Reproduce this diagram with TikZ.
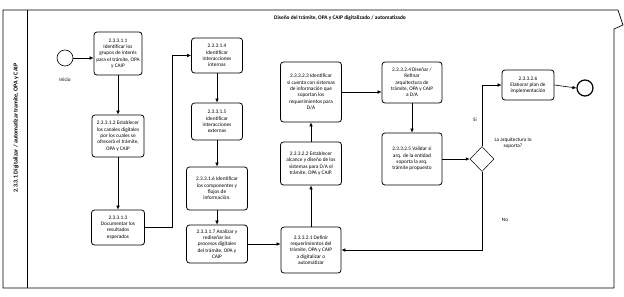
\documentclass[tikz,border=0pt]{standalone}
\usepackage{fontspec}
\setmainfont{Carlito}
\usetikzlibrary{arrows.meta,shapes.geometric}
\begin{document}
\begin{tikzpicture}[x=1pt,y=-1pt,
  task/.style 2 args={draw,rounded corners=3pt,line width=0.8pt,align=center,
    font=\fontsize{5.3}{6.3}\selectfont,inner sep=1pt,minimum width=#1,minimum height=#2},
  arr/.style={draw,line width=0.6pt,-{Latex[length=4pt,width=3.6pt]}},
  frame/.style={draw,line width=0.7pt},
  lbl/.style={font=\fontsize{5.2}{6}\selectfont,align=center,inner sep=0pt},
  event/.style={draw,circle,minimum size=16pt,inner sep=0pt},
  gate/.style={draw,diamond,minimum width=24pt,minimum height=25pt,inner sep=0pt,line width=0.5pt}]
\useasboundingbox[fill=white] (0,0) rectangle (624,297);
% pool / lane frame
\coordinate (tl) at (3,10);
\coordinate (tr) at (618,10);
\coordinate (tip) at (623,25);
\coordinate (rb) at (614,29);
\coordinate (br) at (614,288);
\coordinate (bl) at (3,288);
\draw[frame] (tl) -- (tr) -- (tip) -- (rb) -- (br) -- (bl) -- cycle;
\coordinate (dt) at (27,10);
\coordinate (db) at (27,288);
\draw[frame] (dt) -- (db);
\node[font=\bfseries\fontsize{6}{6}\selectfont,rotate=90] (lane) at (16,128) {2.3.3.1 Digitalizar / automatizar tramite, OPA y CAIP};
\node[font=\bfseries\fontsize{5.4}{6}\selectfont] (title) at (340,18) {Diseño del trámite, OPA y CAIP digitalizado / automatizado};
% events
\node[event,line width=0.6pt] (start) at (65,58) {};
\node[lbl] (inicio) at (65,80) {Inicio};
\node[event,line width=1.2pt] (end) at (585,88) {};
% tasks
\node[task={48pt}{43pt}] (b11) at (118,53.5) {2.3.3.1.1\\Identificar los\\grupos de interés\\para el trámite, OPA\\y CAIP};
\node[task={52pt}{42pt}] (b12) at (118,136) {2.3.3.1.2 Establecer\\los canales digitales\\por los cuales se\\ofrecerá el trámite,\\OPA y CAIP};
\node[task={53pt}{35pt}] (b13) at (118,227.5) {2.3.3.1.3\\Documentar los\\resultados\\esperados};
\node[task={51pt}{35pt}] (b14) at (217,55.5) {2.3.3.1.4\\Identificar\\interacciones\\internas};
\node[task={51pt}{37pt}] (b15) at (217,121.5) {2.3.3.1.5\\Identificar\\interacciones\\externas};
\node[task={61pt}{43pt}] (b16) at (217,188.5) {2.3.3.1.6 Identificar\\los componentes y\\flujos de\\información.};
\node[task={61pt}{38pt}] (b17) at (217,244) {2.3.3.1.7 Analizar y\\rediseñar los\\procesos digitales\\del trámite, OPA y\\CAIP};
\node[task={60pt}{46pt}] (b21) at (311,250) {2.3.3.2.1 Definir\\requerimientos del\\trámite, OPA y CAIP\\a digitalizar o\\automatizar};
\node[task={61pt}{43pt}] (b22) at (311,163.5) {2.3.3.2.2 Establecer\\alcance y diseño de los\\sistemas para D/A el\\trámite, OPA y CAIP.};
\node[task={61pt}{60pt}] (b23) at (311,92) {2.3.3.2.3 Identificar\\si cuenta con sistemas\\de información que\\soportan los\\requerimientos para\\D/A};
\node[task={60pt}{41pt}] (b24) at (412,82.5) {2.3.3.2.4 Diseñar /\\Refinar\\arquitectura de\\trámite, OPA y CAIP\\a D/A};
\node[task={60pt}{52pt}] (b25) at (412,159) {2.3.3.2.5 Validar si\\arq. de la entidad\\soporta la arq.\\trámite propuesto};
\node[task={52pt}{30pt}] (b26) at (528,85) {2.3.3.2.6\\Elaborar plan de\\implementación};
\node[gate] (gw) at (482,159) {};
\node[lbl] (qlbl) at (513,143) {La arquitectura lo\\soporta?};
\node[lbl] (si) at (475,120) {Si};
\node[lbl] (no) at (505,220) {No};
% connectors
\draw[arr] (start.east) -- (start.east -| b11.west);
\draw[arr] (b11.south) -- (b12.north);
\draw[arr] (b12.south) -- (b13.north);
\draw[arr] (b13.east) -- ++(27,0) |- (b14.west);
\draw[arr] (b14.south) -- (b15.north);
\draw[arr] (b15.south) -- (b16.north);
\draw[arr] (b16.south) -- (b17.north);
\draw[arr] (b17.east) -- (b17.east -| b21.west);
\draw[arr] (b21.north) -- (b22.south);
\draw[arr] (b22.north) -- (b23.south);
\draw[arr] (b23.east) -- (b23.east -| b24.west);
\draw[arr] (b24.south) -- (b25.north);
\draw[arr] (b25.east |- gw.west) -- (gw.west);
\draw[arr] (gw.north) |- (b26.west);
\draw[arr] (b26.east) -- (end.west);
\draw[arr] (gw.south) |- (b21.east);
\end{tikzpicture}
\end{document}
